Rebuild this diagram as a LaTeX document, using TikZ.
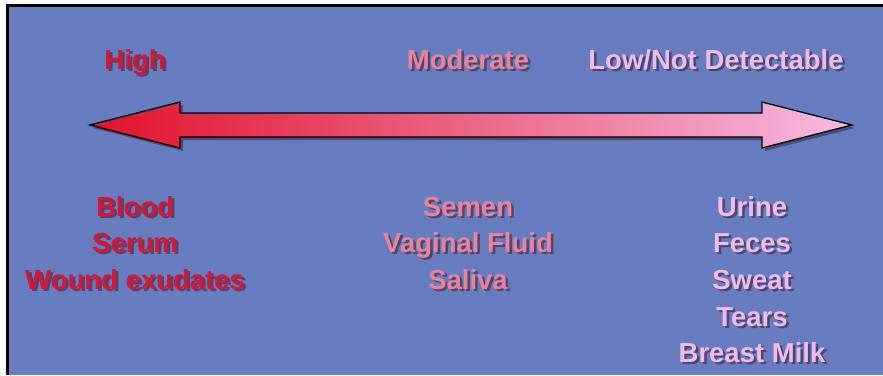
\documentclass[tikz,border=0pt]{standalone}
\usepackage{fontspec}
\setmainfont{Liberation Sans}
\definecolor{bg}{RGB}{104,125,192}
\definecolor{hi}{RGB}{226,18,42}
\definecolor{mid}{RGB}{236,96,128}
\definecolor{mo}{RGB}{240,128,146}
\definecolor{lo}{RGB}{246,186,226}
\definecolor{shd}{RGB}{22,26,58}
\tikzset{
  lbl/.style={anchor=base, inner sep=0pt, font=\fontsize{27.5}{27.5}\selectfont\bfseries},
  shadowtxt/.style={lbl, text=shd, text opacity=0.5},
}
\newcommand\lab[5]{%
  \node[shadowtxt] at ({#2+2.5},{#3+2.5}) {#5};
  \node[lbl,text=#4] (#1) at (#2,#3) {#5};}
\begin{document}
\begin{tikzpicture}[x=1pt,y=-1pt]
\useasboundingbox (0,0) rectangle (883,375);
\fill[white] (0,0) rectangle (883,375);
\fill[black] (6,4) rectangle (883,375);
\fill[bg] (9,7) rectangle (883,375);
% arrow shadow
\fill[shd, opacity=0.45, shift={(3,3)}]
  (90,125) -- (180,102) -- (180,113) -- (762,113) -- (762,102) -- (852,125)
  -- (762,148) -- (762,137) -- (180,137) -- (180,148) -- cycle;
% arrow
\path[draw=black, line width=1.3pt, line join=miter, left color=hi, middle color=mid, right color=lo]
  (90,125) -- (180,102) -- (180,113) -- (762,113) -- (762,102) -- (852,125)
  -- (762,148) -- (762,137) -- (180,137) -- (180,148) -- cycle;
% headings
\lab{high}{135}{69}{hi}{High}
\lab{moderate}{468}{69}{mo}{Moderate}
\lab{low}{716}{69}{lo}{Low/Not Detectable}
% high column
\lab{blood}{135}{216}{hi}{Blood}
\lab{serum}{135}{252}{hi}{Serum}
\lab{wound}{135}{289}{hi}{Wound exudates}
% moderate column
\lab{semen}{468}{216}{mo}{Semen}
\lab{vaginal}{468}{252}{mo}{Vaginal Fluid}
\lab{saliva}{468}{289}{mo}{Saliva}
% low column
\lab{urine}{752}{216}{lo}{Urine}
\lab{feces}{752}{252}{lo}{Feces}
\lab{sweat}{752}{289}{lo}{Sweat}
\lab{tears}{752}{326}{lo}{Tears}
\lab{milk}{752}{362}{lo}{Breast Milk}
\end{tikzpicture}
\end{document}
